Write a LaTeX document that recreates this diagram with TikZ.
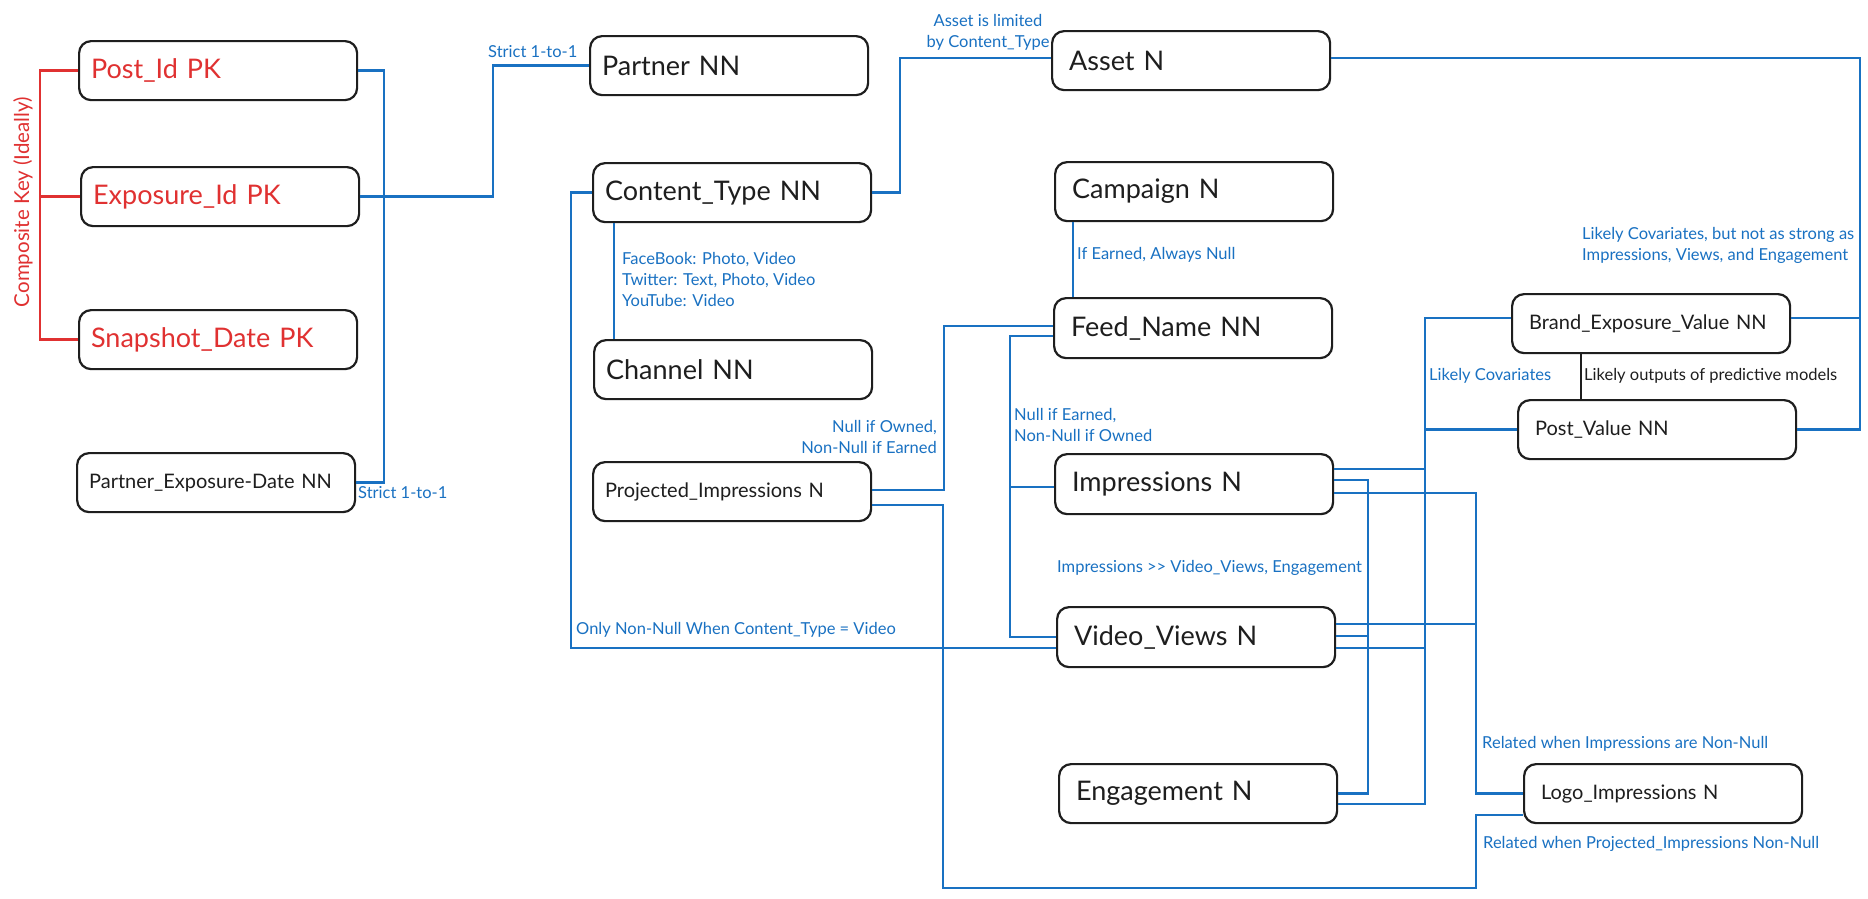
\documentclass[tikz,border=0pt]{standalone}
\usepackage{fontspec}
\setmainfont{Lato}
\definecolor{linkblue}{HTML}{1971C2}
\definecolor{keyred}{HTML}{E03131}
\definecolor{inkblack}{HTML}{1E1E1E}
\newcommand\bigfont{\fontsize{27}{32}\selectfont}
\newcommand\minorfont{\fontsize{20}{24}\selectfont}
\newcommand\annotfont{\fontsize{16.5}{21}\selectfont}
\tikzset{
  entity/.style={draw=inkblack, line width=2.2pt, rounded corners=12pt, anchor=north west,
    minimum height=59pt, inner xsep=12pt, inner ysep=0pt, text width=254pt, align=left,
    font=\bigfont, text=inkblack},
  roomy/.style={inner xsep=17pt, text width=244pt},
  pk/.style={text=keyred},
  minor/.style={font=\minorfont},
  conn/.style={draw=linkblue, line width=2.3pt},
  thinconn/.style={draw=linkblue, line width=1.6pt},
  keyline/.style={draw=keyred, line width=2.3pt},
  annot/.style={font=\annotfont, text=linkblue, inner sep=0pt, align=left},
}
\begin{document}
\begin{tikzpicture}[x=1pt, y=-1pt]
  \fill[white] (0,0) rectangle (1868,898);
  \useasboundingbox (0,0) rectangle (1868,898);

  \node[entity, pk] (post) at (78,40) {Post\_Id PK};
  \node[entity, pk] (expo) at (80,166) {Exposure\_Id PK};
  \node[entity, pk] (snap) at (78,309) {Snapshot\_Date PK};
  \node[entity, minor] (ped) at (76,452) {Partner\_Exposure-Date NN};
  \node[entity] (partner) at (589,35) {Partner NN};
  \node[entity] (ctype) at (592,162) {Content\_Type NN};
  \node[entity] (channel) at (593,339) {Channel NN};
  \node[entity, minor] (projimp) at (592,461) {Projected\_Impressions N};
  \node[entity, roomy] (asset) at (1051,30) {Asset N};
  \node[entity, roomy] (campaign) at (1054,161) {Campaign N};
  \node[entity, roomy, minimum height=60pt] (feed) at (1053,297) {Feed\_Name NN};
  \node[entity, roomy, minimum height=60pt] (impr) at (1054,453) {Impressions N};
  \node[entity, roomy, minimum height=60pt] (video) at (1056,606) {Video\_Views N};
  \node[entity, roomy] (engage) at (1058,763) {Engagement N};
  \node[entity, roomy, minor] (brand) at (1511,293) {Brand\_Exposure\_Value NN};
  \node[entity, roomy, minor] (postval) at (1517,399) {Post\_Value NN};
  \node[entity, roomy, minor] (logo) at (1523,763) {Logo\_Impressions N};

  \coordinate (kbus) at (40,0);
  \coordinate (fbus) at (1010,0);
  \coordinate (ibus) at (1368,0);
  \coordinate (cbus) at (1425,0);
  \coordinate (lbus) at (1476,0);
  \coordinate (rbus) at (1860,0);
  \coordinate (base) at (0,888);
  \coordinate (ctdrop) at ([xshift=22pt]ctype.south west);
  \coordinate (cdrop) at ([xshift=19pt]campaign.south west);
  \coordinate (bdrop) at ([xshift=70pt]brand.south west);
  \coordinate (bre) at ([yshift=5.5pt]brand.east);
  \coordinate (brw) at ([yshift=5.5pt]brand.west);
  \coordinate (ie1) at ([yshift=15pt]impr.east);
  \coordinate (ie2) at ([yshift=4pt]impr.east);
  \coordinate (ie3) at ([yshift=-9pt]impr.east);
  \coordinate (ve1) at ([yshift=13pt]video.east);
  \coordinate (ve2) at ([yshift=1pt]video.east);
  \coordinate (ve3) at ([yshift=-11pt]video.east);
  \coordinate (ee1) at (engage.east);
  \coordinate (ee2) at ([yshift=-10.5pt]engage.east);

  \draw[keyline] (post.west) -- (post.west -| kbus) -- (snap.west -| kbus) -- (snap.west);
  \draw[keyline] (expo.west -| kbus) -- (expo.west);
  \node[font=\fontsize{20.5}{24}\selectfont, text=keyred, rotate=90, inner sep=0pt] (keynote) at (23,202) {Composite Key (Ideally)};

  \draw[conn] (post.east) -- ++(26,0) |- (ped.east);
  \draw[conn] (expo.east) -- ++(133,0) |- (partner.west);
  \draw[conn] (ctype.east) -- ++(28,0) |- ([yshift=2.5pt]asset.west);
  \draw[conn] (ctype.west) -- ++(-21,0) |- ([yshift=-11pt]video.west);
  \draw[thinconn] (ctdrop) -- (ctdrop |- channel.north);
  \draw[conn] ([yshift=1.5pt]projimp.east) -- ++(72,0) |- ([yshift=2pt]feed.west);
  \draw[conn] ([yshift=-13.5pt]projimp.east) -- ++(71,0) |- (lbus |- base) |- ([yshift=-21.5pt]logo.west);
  \draw[conn] ([yshift=-8pt]feed.west) -| (fbus |- video.west) -- (video.west);
  \draw[conn] ([yshift=-3pt]impr.west) -- ([yshift=-3pt]impr.west -| fbus);
  \draw[thinconn] (cdrop) -- (cdrop |- feed.north);
  \draw[conn] ([yshift=2.5pt]asset.east) -| (rbus |- postval.east) -- (postval.east);
  \draw[conn] (bre) -- (bre -| rbus);
  \draw[conn] (brw) -| (cbus |- ee2) -- (ee2);
  \draw[conn] (postval.west) -- (postval.west -| cbus);
  \draw[conn] (ie1) -- (ie1 -| cbus);
  \draw[conn] (ve3) -- (ve3 -| cbus);
  \draw[conn] (ie2) -| (ibus |- ee1) -- (ee1);
  \draw[conn] (ve2) -- (ve2 -| ibus);
  \draw[conn] (ie3) -| (lbus |- logo.west) -- (logo.west);
  \draw[conn] (ve1) -- (ve1 -| lbus);
  \draw[draw=inkblack, line width=1.8pt] (bdrop) -- (bdrop |- postval.north);

  \node[annot, anchor=west] (strictlow) at (358,493) {Strict 1-to-1};
  \node[annot, anchor=west] (strictup) at (488,52) {Strict 1-to-1};
  \node[annot, align=center] (assetnote) at (988,32) {Asset is limited\\by Content\_Type};
  \node[annot, anchor=west] (platforms) at (622,279) {FaceBook: Photo, Video\\Twitter: Text, Photo, Video\\YouTube: Video};
  \node[annot, anchor=east, align=right] (ownednote) at (937,437) {Null if Owned,\\Non-Null if Earned};
  \node[annot, anchor=west] (earnednote) at (1014,425) {Null if Earned,\\Non-Null if Owned};
  \node[annot, anchor=west] (videonote) at (576,630) {Only Non-Null When Content\_Type = Video};
  \node[annot, anchor=west] (campnote) at (1077,255) {If Earned, Always Null};
  \node[annot, anchor=west] (imprnote) at (1057,568) {Impressions >{}> Video\_Views, Engagement};
  \node[annot, anchor=west] (covnote) at (1582,245) {Likely Covariates, but not as strong as\\Impressions, Views, and Engagement};
  \node[annot, anchor=west] (likelycov) at (1429,376) {Likely Covariates};
  \node[annot, anchor=west, text=inkblack] (outnote) at (1584,376) {Likely outputs of predictive models};
  \node[annot, anchor=west] (logonote) at (1482,744) {Related when Impressions are Non-Null};
  \node[annot, anchor=west] (projnote) at (1483,844) {Related when Projected\_Impressions Non-Null};
\end{tikzpicture}
\end{document}
